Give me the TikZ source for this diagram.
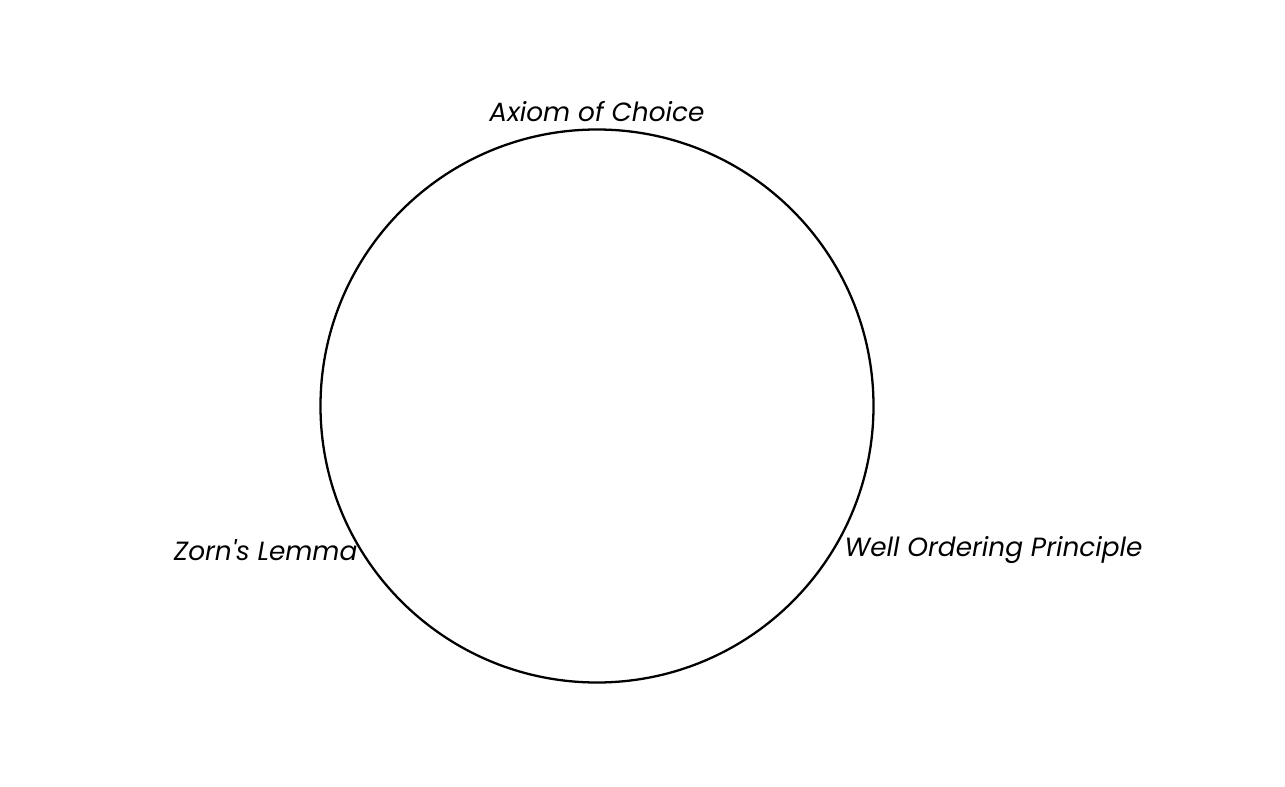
\documentclass[tikz,border=0pt]{standalone}
\usepackage{fontspec}
\setmainfont{Poppins}
\begin{document}
\begin{tikzpicture}[x=0.02cm,y=-0.02cm,
  lbl/.style={font=\itshape\fontsize{15}{18}\selectfont, inner sep=1pt}]
\useasboundingbox (0,0) rectangle (1285,787);
\node[circle, draw, line width=1.3pt, minimum size=553*0.02cm, inner sep=0pt] (c) at (597,406) {};
\node[lbl, anchor=south, yshift=0.1cm] (ac) at (c.90) {Axiom of Choice};
\node[lbl, anchor=east, yshift=-0.1cm, xshift=0.06cm] (zl) at (c.210) {Zorn\textquotesingle s Lemma};
\node[lbl, anchor=west, yshift=-0.1cm, xshift=0.1cm] (wo) at (c.330) {Well Ordering Principle};
\end{tikzpicture}
\end{document}
